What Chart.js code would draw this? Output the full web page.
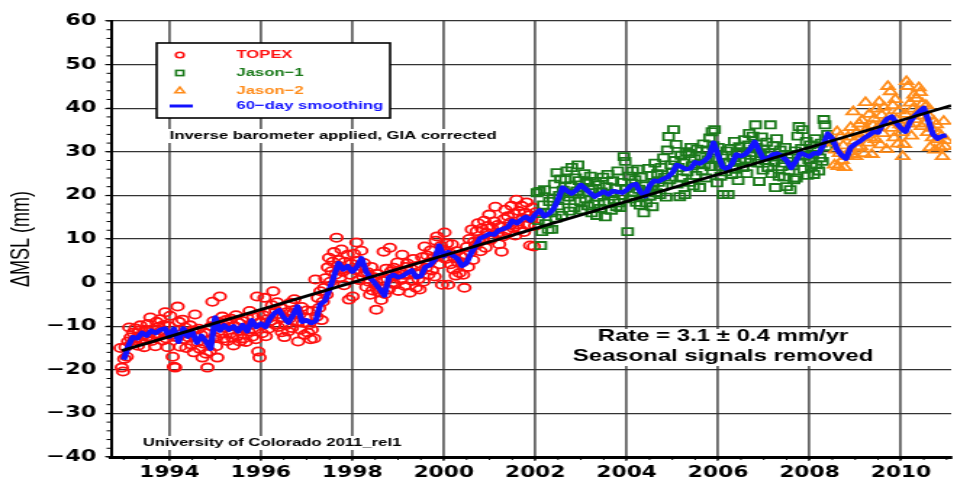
<!DOCTYPE html>
<html>
<head>
<meta charset="utf-8">
<title>Global mean sea level</title>
<script src="https://cdn.jsdelivr.net/npm/chart.js@4.4.1/dist/chart.umd.min.js"></script>
<style>
  html, body { margin: 0; padding: 0; background: #fff; }
  /* the plot is drawn narrow and stretched sideways, like the original graphic */
  #wrap { width: 663px; height: 483px; transform: scaleX(1.45); transform-origin: 0 0; }
</style>
</head>
<body>
<div id="wrap"><canvas id="msl" width="663" height="483"></canvas></div>
<script>
// one altimeter repeat cycle (~9.92 days) in years
const cycleYears = 0.02715;

// TOPEX/Poseidon, one value per cycle (mm)
const topexStart = 1992.93;
const topexValues = [
  -15, -19.5, -20.4, -17.5, -14.8, -17, -13.5, -10.3, -12.6, -14, -11.5,
  -13.2, -10.5, -12.8, -14.5, -11, -9.8, -13, -12, -14.8, -10.8, -12.4,
  -9.5, -12.6, -8, -13.4, -10.7, -11.8, -14.6, -9, -12.2, -10.2, -8.4,
  -11, -13.3, -9.7, -6.8, -12.8, -14.8, -10, -7.6, -12, -17, -19.3,
  -19.5, -12.5, -5.5, -9, -14.7, -11.8, -8.5, -13, -10.3, -15, -11.6,
  -12.6, -9.8, -14.2, -11, -16, -7.3, -12.4, -13.6, -10.6, -15.2, -12,
  -17.2, -14, -11.5, -16.3, -19.5, -13.2, -15.8, -10, -4.4, -8.8, -12.5,
  -14.6, -17.2, -9, -3.2, -11.6, -7.8, -12.8, -10.4, -8.6, -13.4, -9.5,
  -11.8, -8.3, -12.6, -14.4, -10, -7.5, -12.2, -9.2, -13.5, -11, -8.8,
  -12.8, -10.4, -13.6, -8, -11.2, -6.5, -9.6, -12.4, -7.8, -10.8, -13,
  -3.2, -15.8, -17.2, -9, -11.6, -7.5, -3.5, -12.3, -8.4, -10.6, -6.8,
  -8.8, -5.2, -2, -9.6, -6.4, -4.5, -10.2, -7.2, -5.8, -11.4, -8,
  -12.5, -9.8, -6.8, -11.2, -8.3, -4.6, -10.4, -7, -3.8, -6.2, -9,
  -13.5, -7.4, -10.8, -5.6, -9.2, -12, -8, -6.4, -11.5, -9.6, -13,
  -10.8, -6.5, -12.8, 0.7, -7.8, -3.5, -5.8, -2, -8.6, -4.4, -1.2,
  1, -2.8, 3.5, 5.7, 0.2, 2.6, 4.8, 7, 1.8, 10.3, 3.9,
  5.2, 1.2, 7.6, 2.5, -0.6, 4.8, 3.2, 6.4, -3.9, 1.8, 4.3,
  -3.2, 6.6, 2.9, 9.2, 5, 0.6, 3.8, 7.3, 1.5, 4.5, 2.2,
  -1, 2.4, 0.2, -2.8, 3.6, -1.8, 1.2, -0.5, -6.2, 2, -2.2,
  -1.2, -4, 0.4, 7.1, -2.6, 3.2, 0.8, -1.6, 8, 2.6, 0,
  3.4, -0.4, 1.6, 4.6, -1.9, 2.8, 0.6, 6.4, 1.8, -0.8, 3.6,
  4.4, 1.8, -2.3, 3.2, 0.4, 5.4, 2.2, -1.2, 3.8, 0.8, -1.6,
  2.6, 5.8, 0.2, 8.3, 3.4, 6.2, 1.8, 4.8, 7.4, 2.8, 5.6,
  1.4, 9.6, 10.6, 6.2, 4.2, 8.4, -0.5, 7.6, 11.5, 5.4, 9,
  -0.5, 6.8, 4.2, 8.8, 3, 5.6, 1.6, 7.2, 4.6, 2.2, 6,
  4.6, 1.8, -1.2, 6.4, 8.2, 3.6, 10, 7, 12.2, 5.2, 9.4,
  8.6, 11.8, 13.6, 9.4, 7.2, 12.4, 10.2, 14.2, 8, 11.4, 13,
  15.6, 9.8, 12.6, 10.4, 14, 17.4, 11.2, 13.2, 8.8, 12.8, 7.1,
  10.6, 14.6, 16.7, 12, 15.2, 11.4, 13.8, 17.6, 12.6, 15.8, 10.8,
  19, 13.4, 16.4, 12.2, 17.6, 14.8, 11.6, 16, 18.4, 13.2, 15.4,
  8.5, 14.6, 17.2, 8.3, 13, 16.2
];

// Jason-1
const jason1Start = 2002.04;
const jason1Values = [
  20.6, 14.2, 20.9, 8.5, 11.7, 17.8, 21.3, 13.5, 16, 12.2, 18.6,
  16, 12.2, 19.4, 22.6, 14.8, 25.2, 17.6, 20, 23.8, 15.4, 21.2,
  18.8, 23.6, 25.6, 19.6, 16.4, 22.2, 26.4, 20.4, 17.2, 24, 21,
  27, 23.4, 18.6, 16.7, 21.8, 25, 19.2, 23, 17.6, 20.6, 24.4,
  16, 21.4, 18, 23.2, 15.4, 19.6, 22.4, 17, 20.8, 24.2, 18.4,
  15.1, 22, 24.8, 18.2, 20.4, 16.6, 23.4, 19, 21.6, 17.4, 25.6,
  18.3, 17.2, 23, 20, 28.9, 27.8, 21.6, 11.7, 24.4, 19.2, 22.8,
  25.6, 20.6, 23.6, 18.4, 26, 21.4, 17.8, 24.2, 19.6, 16, 22.2,
  18.3, 21, 26.2, 19.8, 24.6, 17.4, 22.8, 27.4, 20.6, 25, 23,
  20.2, 26.4, 22, 28.6, 24.2, 19.6, 30.4, 33.5, 23.6, 27, 25.2,
  35.1, 28, 31.7, 22.6, 26.4, 19.7, 29.2, 24, 27.4, 20.2, 30,
  25.4, 29.6, 23, 31, 26.8, 22.2, 28.4, 24.6, 30.6, 27.2, 21.8,
  29, 25.6, 31.8, 27, 24, 30.4, 28.2, 33.2, 26.6, 34.6, 31.4,
  35.1, 28.6, 22.9, 31, 26.6, 24.4, 29.2, 20.2, 27.4, 25.4, 30.2,
  20.2, 27.6, 30.8, 24.8, 28.6, 32.4, 26, 29.8, 23.4, 31.2, 27.8,
  30, 26.4, 32.8, 28.4, 25, 31.6, 34.2, 27.6, 29.8, 33.6, 30.6,
  36.2, 31, 27.4, 23.2, 29.6, 33.4, 25.8, 30.6, 28, 32.2, 26.4,
  29.8, 36.2, 25, 31.4, 27.6, 21.8, 33, 28.8, 24.4, 30.4, 26.6,
  27.4, 24.2, 31, 22, 28.6, 25.6, 21.3, 29.4, 26.8, 23.6, 30.2,
  24, 33.6, 35.8, 27.6, 30.8, 35.1, 26, 29, 32.4, 24.6, 28.2,
  31.6, 26.6, 29.4, 24.8, 33, 27, 30.2, 25.6, 28.6, 32, 27.8,
  37.4, 36.2, 31.2, 34
];

// Jason-2
const jason2Start = 2008.52;
const jason2Values = [
  32, 27, 30.4, 34.6, 26.6, 29.6, 33.6, 28, 31.4, 26.4, 28.9,
  28.9, 33.4, 30, 35.6, 29.4, 39.2, 32.4, 28.9, 34.4, 30.8, 36.4,
  31.2, 37.2, 34, 29.6, 41.3, 35.2, 32, 38.6, 33.2, 29.4, 36,
  37.6, 32.8, 39.8, 35.6, 41.4, 31.6, 38.4, 34.2, 40.2, 36.8, 30.5,
  45, 38, 43.8, 35.4, 40.6, 33.2, 42, 37.4, 31.8, 39.4, 36.2,
  34.4, 28.9, 31.7, 38.6, 46.1, 45, 36.4, 41.2, 33.6, 39.8, 43,
  37.4, 42.2, 39, 44.7, 43.6, 35.8, 41, 38.2, 36.4, 40.6, 34.4,
  38.2, 31, 35.4, 33.2, 37, 30.4, 36.2, 32.8, 34.2, 31, 33.6,
  28.9, 37, 31.2, 32.6
];

// 60-day smoothed series, every 0.1 yr
const smoothStart = 1993.0;
const smoothStep = 0.1;
const smoothValues = [
  -17.7, -14.5, -12.5, -12.8, -11.5, -12.2, -11, -11.6, -10.8, -10.5,
  -12.4, -10.6, -13.6, -10.5, -12.4, -11.3, -13.8, -12.2, -13.5, -15.2,
  -8, -11, -9.8, -10.8, -10, -11.2, -9.7, -11.2, -8.6, -10.2,
  -9.4, -10.2, -8.2, -7, -6.3, -8, -9.2, -7.5, -5.5, -9,
  -8.6, -9.3, -8.8, -5, -4.2, -1.5, 1.5, 4.5, 3, 3.8,
  2.5, 3.6, 5.6, 2.6, 1, -0.2, -1.5, -3, 1.2, 1.8,
  1.2, 1.5, 2.2, 2.8, 1.2, 1.5, 3.6, 4, 5.2, 8.5,
  6, 7, 6.2, 5.5, 3.8, 4.5, 6.8, 8.5, 10.2, 10.6,
  11.2, 11, 12, 12.3, 12.7, 14.2, 13.6, 14.5, 15.1, 14.2,
  15.6, 16.6, 15.2, 15.8, 16.9, 19, 21.8, 21, 20.4, 21.2,
  22.4, 21.5, 20.6, 19.7, 20.3, 20.9, 20.2, 21, 20.8, 20.6,
  21.2, 22.3, 22.6, 20.8, 19.8, 22.2, 23.4, 23.2, 23.8, 24.2,
  25.2, 27, 26.5, 26, 26.2, 27.6, 27.3, 27.9, 28.9, 32.1,
  29.2, 26.5, 26, 27.2, 29.4, 29, 29.5, 30.6, 32.3, 30.2,
  28.2, 28.6, 29.4, 29.6, 29, 28, 26.3, 27.8, 29.8, 29.3,
  28.9, 29.7, 29.6, 31.5, 34.2, 33, 30.6, 29.2, 28.4, 31,
  31.8, 32.4, 33.2, 33.8, 34.6, 34.4, 36.3, 37.6, 38.1, 36.6,
  35.4, 34.6, 36.9, 38.2, 39.2, 40.1, 37.2, 34, 33, 33.6,
  33.8
];

// linear trend
const trendYears = [1992.96, 2011.1];
const trendStartValue = -15.6;
const trendRate = 3.1;
const trendError = 0.4;

const xMin = 1992.72;
const xMax = 2011.1;
const xTickYears = [1994, 1996, 1998, 2000, 2002, 2004, 2006, 2008, 2010];
const yTickValues = [-40, -30, -20, -10, 0, 10, 20, 30, 40, 50, 60];

const legendLabels = ['TOPEX', 'Jason\u22121', 'Jason\u22122', '60\u2212day smoothing'];
const noteText = 'Inverse barometer applied, GIA corrected';
const creditText = 'University of Colorado 2011_rel1';
const seasonalText = 'Seasonal signals removed';

const red = '#ff1010';
const green = '#1b7a1b';
const orange = '#ff8c1a';
const blue = '#1212ff';

function toPoints(start, step, values) {
  return values.map((v, i) => ({ x: start + i * step, y: v }));
}

const trendPoints = trendYears.map(t => ({
  x: t,
  y: trendStartValue + trendRate * (t - trendYears[0])
}));

function minusLabel(v) {
  return v < 0 ? '\u2212' + Math.abs(v) : String(v);
}

// boxes, legend, notes and minor ticks
const decorations = {
  id: 'decorations',
  afterDraw(chart) {
    const { ctx, chartArea: area, scales: { x, y } } = chart;
    ctx.save();

    ctx.strokeStyle = '#000';
    ctx.lineWidth = 1;
    ctx.beginPath();
    for (let v = yTickValues[0]; v <= yTickValues[yTickValues.length - 1]; v += 2) {
      const py = y.getPixelForValue(v);
      ctx.moveTo(area.left - 3, py);
      ctx.lineTo(area.left, py);
    }
    for (let t = Math.ceil(xMin * 2) / 2; t <= xMax; t += 0.5) {
      const px = x.getPixelForValue(t);
      ctx.moveTo(px, area.bottom);
      ctx.lineTo(px, area.bottom + 3);
    }
    ctx.stroke();

    function note(text, px, py, align, font) {
      ctx.font = font;
      const w = ctx.measureText(text).width;
      const left = align === 'center' ? px - w / 2 : px;
      ctx.fillStyle = '#fff';
      ctx.fillRect(left - 2, py - 7, w + 4, 14);
      ctx.fillStyle = '#000';
      ctx.textAlign = 'left';
      ctx.textBaseline = 'middle';
      ctx.fillText(text, left, py);
    }

    // legend box
    ctx.fillStyle = '#fff';
    ctx.fillRect(108, 43, 161, 75);
    ctx.lineWidth = 1.6;
    ctx.strokeStyle = '#000';
    ctx.strokeRect(108, 43, 161, 75);

    const rows = [55, 73, 90.5, 106];
    const colors = [red, green, orange, blue];
    const mx = 124;
    ctx.lineWidth = 1.6;

    ctx.strokeStyle = red;
    ctx.beginPath();
    ctx.arc(mx, rows[0], 2.8, 0, Math.PI * 2);
    ctx.stroke();

    ctx.strokeStyle = green;
    ctx.strokeRect(mx - 2.6, rows[1] - 2.6, 5.2, 5.2);

    ctx.strokeStyle = orange;
    ctx.beginPath();
    ctx.moveTo(mx, rows[2] - 3.4);
    ctx.lineTo(mx + 3.2, rows[2] + 2.2);
    ctx.lineTo(mx - 3.2, rows[2] + 2.2);
    ctx.closePath();
    ctx.stroke();

    ctx.strokeStyle = blue;
    ctx.lineWidth = 3;
    ctx.beginPath();
    ctx.moveTo(117, rows[3]);
    ctx.lineTo(133, rows[3]);
    ctx.stroke();

    ctx.font = 'bold 11.5px "Liberation Sans", Arial, sans-serif';
    ctx.textAlign = 'left';
    ctx.textBaseline = 'middle';
    legendLabels.forEach((label, i) => {
      ctx.fillStyle = colors[i];
      ctx.fillText(label, 163, rows[i]);
    });

    note(noteText, 117, 136, 'left', 'bold 11.5px "Liberation Sans", Arial, sans-serif');
    note(creditText, 98.5, 443, 'left', 'bold 11.5px "Liberation Sans", Arial, sans-serif');

    const rateText = 'Rate = ' + trendRate + ' \u00b1 ' + trendError + ' mm/yr';
    const bigFont = 'bold 16.5px "Liberation Sans", Arial, sans-serif';
    ctx.font = bigFont;
    const w = Math.max(ctx.measureText(rateText).width, ctx.measureText(seasonalText).width);
    ctx.fillStyle = '#fff';
    ctx.fillRect(498.6 - w / 2 - 3, 329, w + 6, 37);
    note(rateText, 498.6, 336.5, 'center', bigFont);
    note(seasonalText, 498.6, 356.5, 'center', bigFont);

    ctx.restore();
  }
};

Chart.defaults.font.family = '"Liberation Sans", Arial, sans-serif';
Chart.defaults.color = '#000';

new Chart(document.getElementById('msl'), {
  type: 'scatter',
  data: {
    datasets: [
      {
        label: 'trend',
        data: trendPoints,
        showLine: true,
        borderColor: '#000',
        borderWidth: 2.8,
        pointRadius: 0,
        order: 0
      },
      {
        label: legendLabels[3],
        data: toPoints(smoothStart, smoothStep, smoothValues),
        showLine: true,
        borderColor: blue,
        borderWidth: 4.3,
        pointRadius: 0,
        borderJoinStyle: 'round',
        order: 1
      },
      {
        label: legendLabels[2],
        data: toPoints(jason2Start, cycleYears, jason2Values),
        pointStyle: 'triangle',
        pointRadius: 5.2,
        borderWidth: 1.8,
        borderColor: orange,
        backgroundColor: 'rgba(0,0,0,0)',
        order: 2
      },
      {
        label: legendLabels[1],
        data: toPoints(jason1Start, cycleYears, jason1Values),
        pointStyle: 'rect',
        pointRadius: 5,
        borderWidth: 1.8,
        borderColor: green,
        backgroundColor: 'rgba(0,0,0,0)',
        order: 3
      },
      {
        label: legendLabels[0],
        data: toPoints(topexStart, cycleYears, topexValues),
        pointStyle: 'circle',
        pointRadius: 4.1,
        borderWidth: 1.8,
        borderColor: red,
        backgroundColor: 'rgba(0,0,0,0)',
        order: 4
      }
    ]
  },
  options: {
    responsive: false,
    animation: false,
    events: [],
    layout: { padding: { top: 21, right: 0, bottom: 0, left: 0 } },
    plugins: {
      legend: { display: false },
      tooltip: { enabled: false }
    },
    scales: {
      x: {
        type: 'linear',
        min: xMin,
        max: xMax,
        afterBuildTicks: scale => { scale.ticks = xTickYears.map(v => ({ value: v })); },
        afterFit: scale => { scale.height = 26; },
        ticks: {
          font: { family: '"DejaVu Sans"', size: 15, weight: 'bold' },
          color: '#000',
          padding: 3,
          maxRotation: 0,
          callback: v => String(v)
        },
        grid: { color: '#666', lineWidth: 1.8, tickLength: 4, tickColor: '#000', tickWidth: 1 },
        border: { display: true, color: '#000', width: 3 }
      },
      y: {
        type: 'linear',
        min: yTickValues[0],
        max: yTickValues[yTickValues.length - 1],
        afterBuildTicks: scale => { scale.ticks = yTickValues.map(v => ({ value: v })); },
        afterFit: scale => { scale.width = 76.5; },
        ticks: {
          font: { family: '"DejaVu Sans"', size: 15.5, weight: 'bold' },
          color: '#000',
          padding: 6,
          callback: v => minusLabel(v)
        },
        title: {
          display: true,
          text: '\u0394MSL (mm)',
          font: { size: 18, weight: 'normal' },
          color: '#000',
          padding: { top: 4, bottom: 0 }
        },
        grid: { color: '#333', lineWidth: 1.3, tickLength: 4, tickColor: '#000', tickWidth: 1 },
        border: { display: true, color: '#000', width: 2 }
      }
    }
  },
  plugins: [decorations]
});
</script>
</body>
</html>
